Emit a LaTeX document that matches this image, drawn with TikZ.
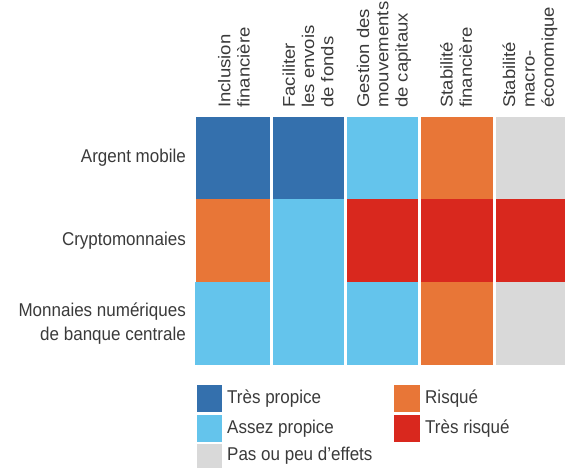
\documentclass[tikz,border=0pt]{standalone}
\usepackage{fontspec}
\setmainfont{Liberation Sans}
\definecolor{dblue}{HTML}{3470AD}
\definecolor{lblue}{HTML}{64C4EC}
\definecolor{orng}{HTML}{E87637}
\definecolor{rred}{HTML}{D9281E}
\definecolor{lgrey}{HTML}{D9D9D9}
\definecolor{txt}{HTML}{3A3A3A}
\tikzset{
  hdr/.style={rotate=90,xscale=1.09,anchor=west,align=left,inner sep=0pt,text=txt,font=\fontsize{17}{19.3}\selectfont},
  rowlbl/.style={yscale=1.09,anchor=east,align=right,inner sep=0pt,text=txt,font=\fontsize{17}{22}\selectfont},
  leg/.style={yscale=1.09,anchor=west,inner sep=0pt,text=txt,font=\fontsize{17}{21}\selectfont},
}
\begin{document}
\begin{tikzpicture}[x=1pt,y=-1pt]
\useasboundingbox (0,0) rectangle (565,468);
% row 1
\fill[dblue] (196,117) rectangle (270,199);
\fill[dblue] (273,117) rectangle (344,199);
\fill[lblue] (347,117) rectangle (418,199);
\fill[orng]  (421,117) rectangle (493,199);
\fill[lgrey] (496,117) rectangle (565,199);
% row 2
\fill[orng]  (196,199) rectangle (270,282);
\fill[lblue] (273,199) rectangle (344,365);
\fill[rred]  (347,199) rectangle (418,282);
\fill[rred]  (421,199) rectangle (493,282);
\fill[rred]  (496,199) rectangle (565,282);
% row 3
\fill[lblue] (195,282) rectangle (270,365);
\fill[lblue] (347,282) rectangle (418,365);
\fill[orng]  (421,282) rectangle (493,365);
\fill[lgrey] (496,282) rectangle (565,365);
% headers
\node[hdr] (h1) at (234,108) {Inclusion\\financière};
\node[hdr] (h2) at (308,108) {Faciliter\\les envois\\de fonds};
\node[hdr] (h3) at (384,108) {Gestion des\\mouvements\\de capitaux};
\node[hdr] (h4) at (456,108) {Stabilité\\financière};
\node[hdr] (h5) at (530,108) {Stabilité\\macro-\\économique};
% row labels
\node[rowlbl] (r1) at (186,158) {Argent mobile};
\node[rowlbl] (r2) at (186,240.5) {Cryptomonnaies};
\node[rowlbl] (r3) at (186,323.5) {Monnaies numériques\\de banque centrale};
% legend
\fill[dblue] (197,385) rectangle (222,412);
\fill[lblue] (197,415) rectangle (222,442);
\fill[lgrey] (197,444) rectangle (222,468);
\fill[orng]  (394,385) rectangle (420,412);
\fill[rred]  (394,415) rectangle (420,442);
\node[leg] (l1) at (227,398.5) {Très propice};
\node[leg] (l2) at (227,428.5) {Assez propice};
\node[leg] (l3) at (227,456) {Pas ou peu d’effets};
\node[leg] (l4) at (425,398.5) {Risqué};
\node[leg] (l5) at (425,428.5) {Très risqué};
\end{tikzpicture}
\end{document}
